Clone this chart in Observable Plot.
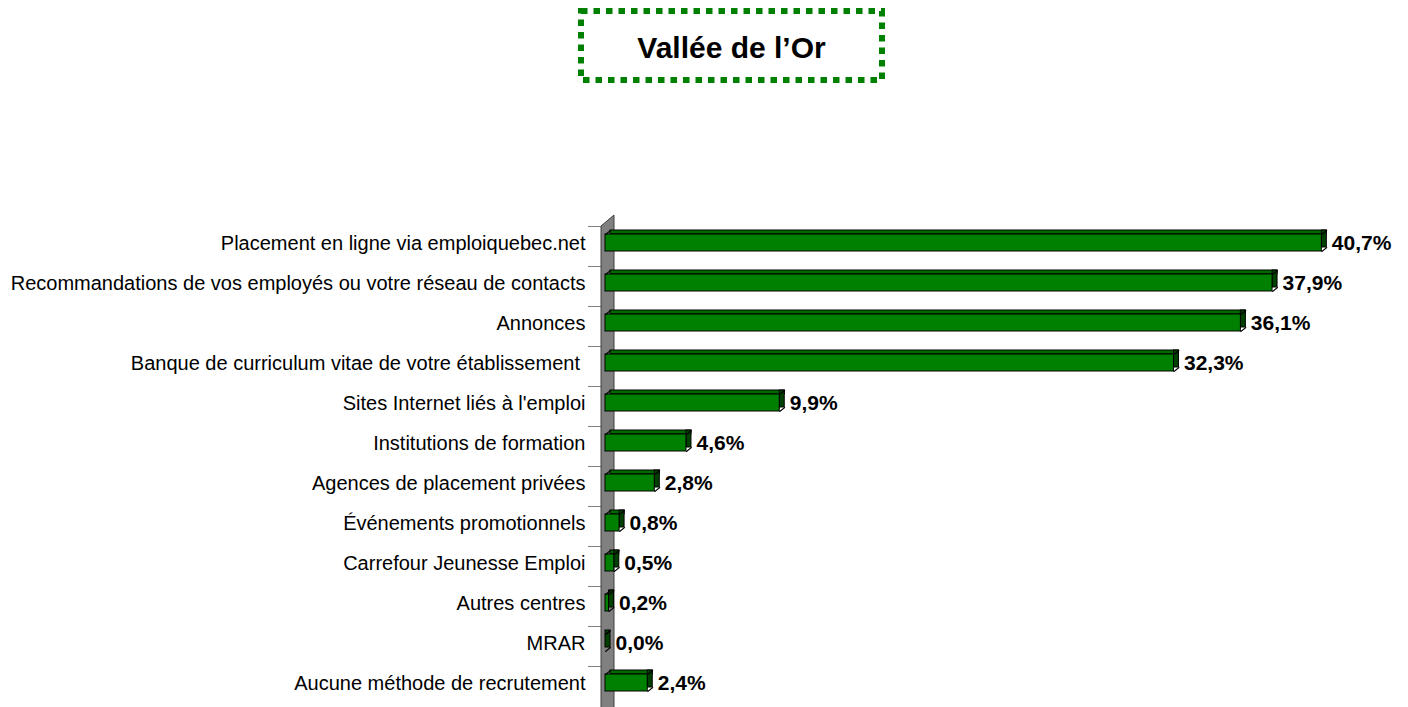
<!DOCTYPE html>
<html>
<head>
<meta charset="utf-8">
<script src="https://cdn.jsdelivr.net/npm/d3@7"></script>
<script src="https://cdn.jsdelivr.net/npm/@observablehq/plot@0.6"></script>
<style>
  html, body { margin: 0; padding: 0; background: #fff; }
  #wrap { width: 1408px; font-family: "Liberation Sans", Arial, sans-serif; }
  #header { position: relative; height: 90px; width: 1408px; }
  #header svg { position: absolute; left: 0; top: 0; }
  svg { display: block; }
</style>
</head>
<body>
<div id="wrap">
  <div id="header">
    <svg width="1408" height="90">
      <rect x="581" y="11" width="301" height="69" fill="none" stroke="#008000" stroke-width="6" stroke-dasharray="6.5 6"></rect>
      <text x="731.5" y="47" text-anchor="middle" dominant-baseline="central" font-family="Liberation Sans, Arial, sans-serif" font-weight="bold" font-size="30" fill="#000">Vallée de l’Or</text>
    </svg>
  </div>
  <div id="chart"></div>
</div>
<script>
const categories = [
  "Placement en ligne via emploiquebec.net",
  "Recommandations de vos employés ou votre réseau de contacts",
  "Annonces",
  "Banque de curriculum vitae de votre établissement\u00a0",
  "Sites Internet liés à l'emploi",
  "Institutions de formation",
  "Agences de placement privées",
  "Événements promotionnels",
  "Carrefour Jeunesse Emploi",
  "Autres centres",
  "MRAR",
  "Aucune méthode de recrutement"
];
const values = [40.7, 37.9, 36.1, 32.3, 9.9, 4.6, 2.8, 0.8, 0.5, 0.2, 0.0, 2.4];

const data = categories.map((c, i) => ({category: c, value: values[i]}));
const fmt = v => v.toFixed(1).replace(".", ",") + "%";

const DX = 5, DY = -4;
const BAND = 40;
const frontTop = 8, frontBottom = 15; // insets within the 40px band
const diag = {draw(context, l) { context.moveTo(0, 0); context.lineTo(0, -l); }};
const diagLen = Math.hypot(DX, DY);
const diagRot = Math.atan2(DX, -DY) * 180 / Math.PI;

const plot = Plot.plot({
  width: 1408,
  height: 617,
  marginTop: 136,
  marginBottom: 1,
  marginLeft: 605,
  marginRight: 11,
  style: {fontFamily: "Liberation Sans, Arial, sans-serif", fontSize: "20px", color: "#000", background: "#fff"},
  x: {domain: [0, 45], axis: null},
  y: {domain: categories, padding: 0, label: null},
  marks: [
    // tick marks at category boundaries
    Plot.axisY({tickSize: 13, tickFormat: () => "", dy: -BAND / 2, dx: -4, stroke: "#808080", label: null}),
    // category labels
    Plot.axisY({tickSize: 0, tickPadding: 20, dy: -3, fontSize: 20, fill: "#000", label: null}),
    // top face
    Plot.barX(data, {x1: 0, x2: "value", y: "category", insetTop: frontTop + DY, insetBottom: BAND - frontTop, dx: DX, fill: "#006a00", stroke: "#000", strokeWidth: 1}),
    // side face
    Plot.barX(data, {x1: "value", x2: "value", y: "category", insetRight: -DX, insetTop: frontTop, insetBottom: frontBottom, dy: DY, fill: "#004000", stroke: "#000", strokeWidth: 1}),
    // front face
    Plot.barX(data, {x: "value", y: "category", insetTop: frontTop, insetBottom: frontBottom, fill: "#008000", stroke: "#000", strokeWidth: 1}),
    // depth edges
    Plot.vector(data, {x: 0, y: "category", dy: frontTop - BAND / 2, length: diagLen, rotate: diagRot, anchor: "start", shape: diag, stroke: "#000", strokeWidth: 1}),
    Plot.vector(data, {x: "value", y: "category", dy: frontTop - BAND / 2, length: diagLen, rotate: diagRot, anchor: "start", shape: diag, stroke: "#000", strokeWidth: 1}),
    Plot.vector(data, {x: "value", y: "category", dy: BAND / 2 - frontBottom, length: diagLen, rotate: diagRot, anchor: "start", shape: diag, stroke: "#000", strokeWidth: 1}),
    // value labels
    Plot.text(data, {x: "value", y: "category", text: d => fmt(d.value), dx: 10, dy: -3, textAnchor: "start", fontWeight: "bold", fontSize: 21, fill: "#000"})
  ]
});

document.getElementById("chart").appendChild(plot);

// gray 3D wall behind the bars, positioned from the plot's scales
const xs = plot.scale("x"), ys = plot.scale("y");
const x0 = xs.apply(0);
const yTop = ys.apply(categories[0]);
const yBot = ys.apply(categories[categories.length - 1]) + ys.bandwidth + 20;
const svg = d3.select(plot);
const firstMark = plot.querySelector("g[aria-label='bar']");
svg.insert("path", () => firstMark)
  .attr("d", `M${x0 - 4},${yTop}L${x0 + 9},${yTop - 11}L${x0 + 9},${yBot}L${x0 - 4},${yBot}Z`)
  .attr("fill", "#808080")
  .attr("stroke", "#404040")
  .attr("stroke-width", 1);
</script>
</body>
</html>
